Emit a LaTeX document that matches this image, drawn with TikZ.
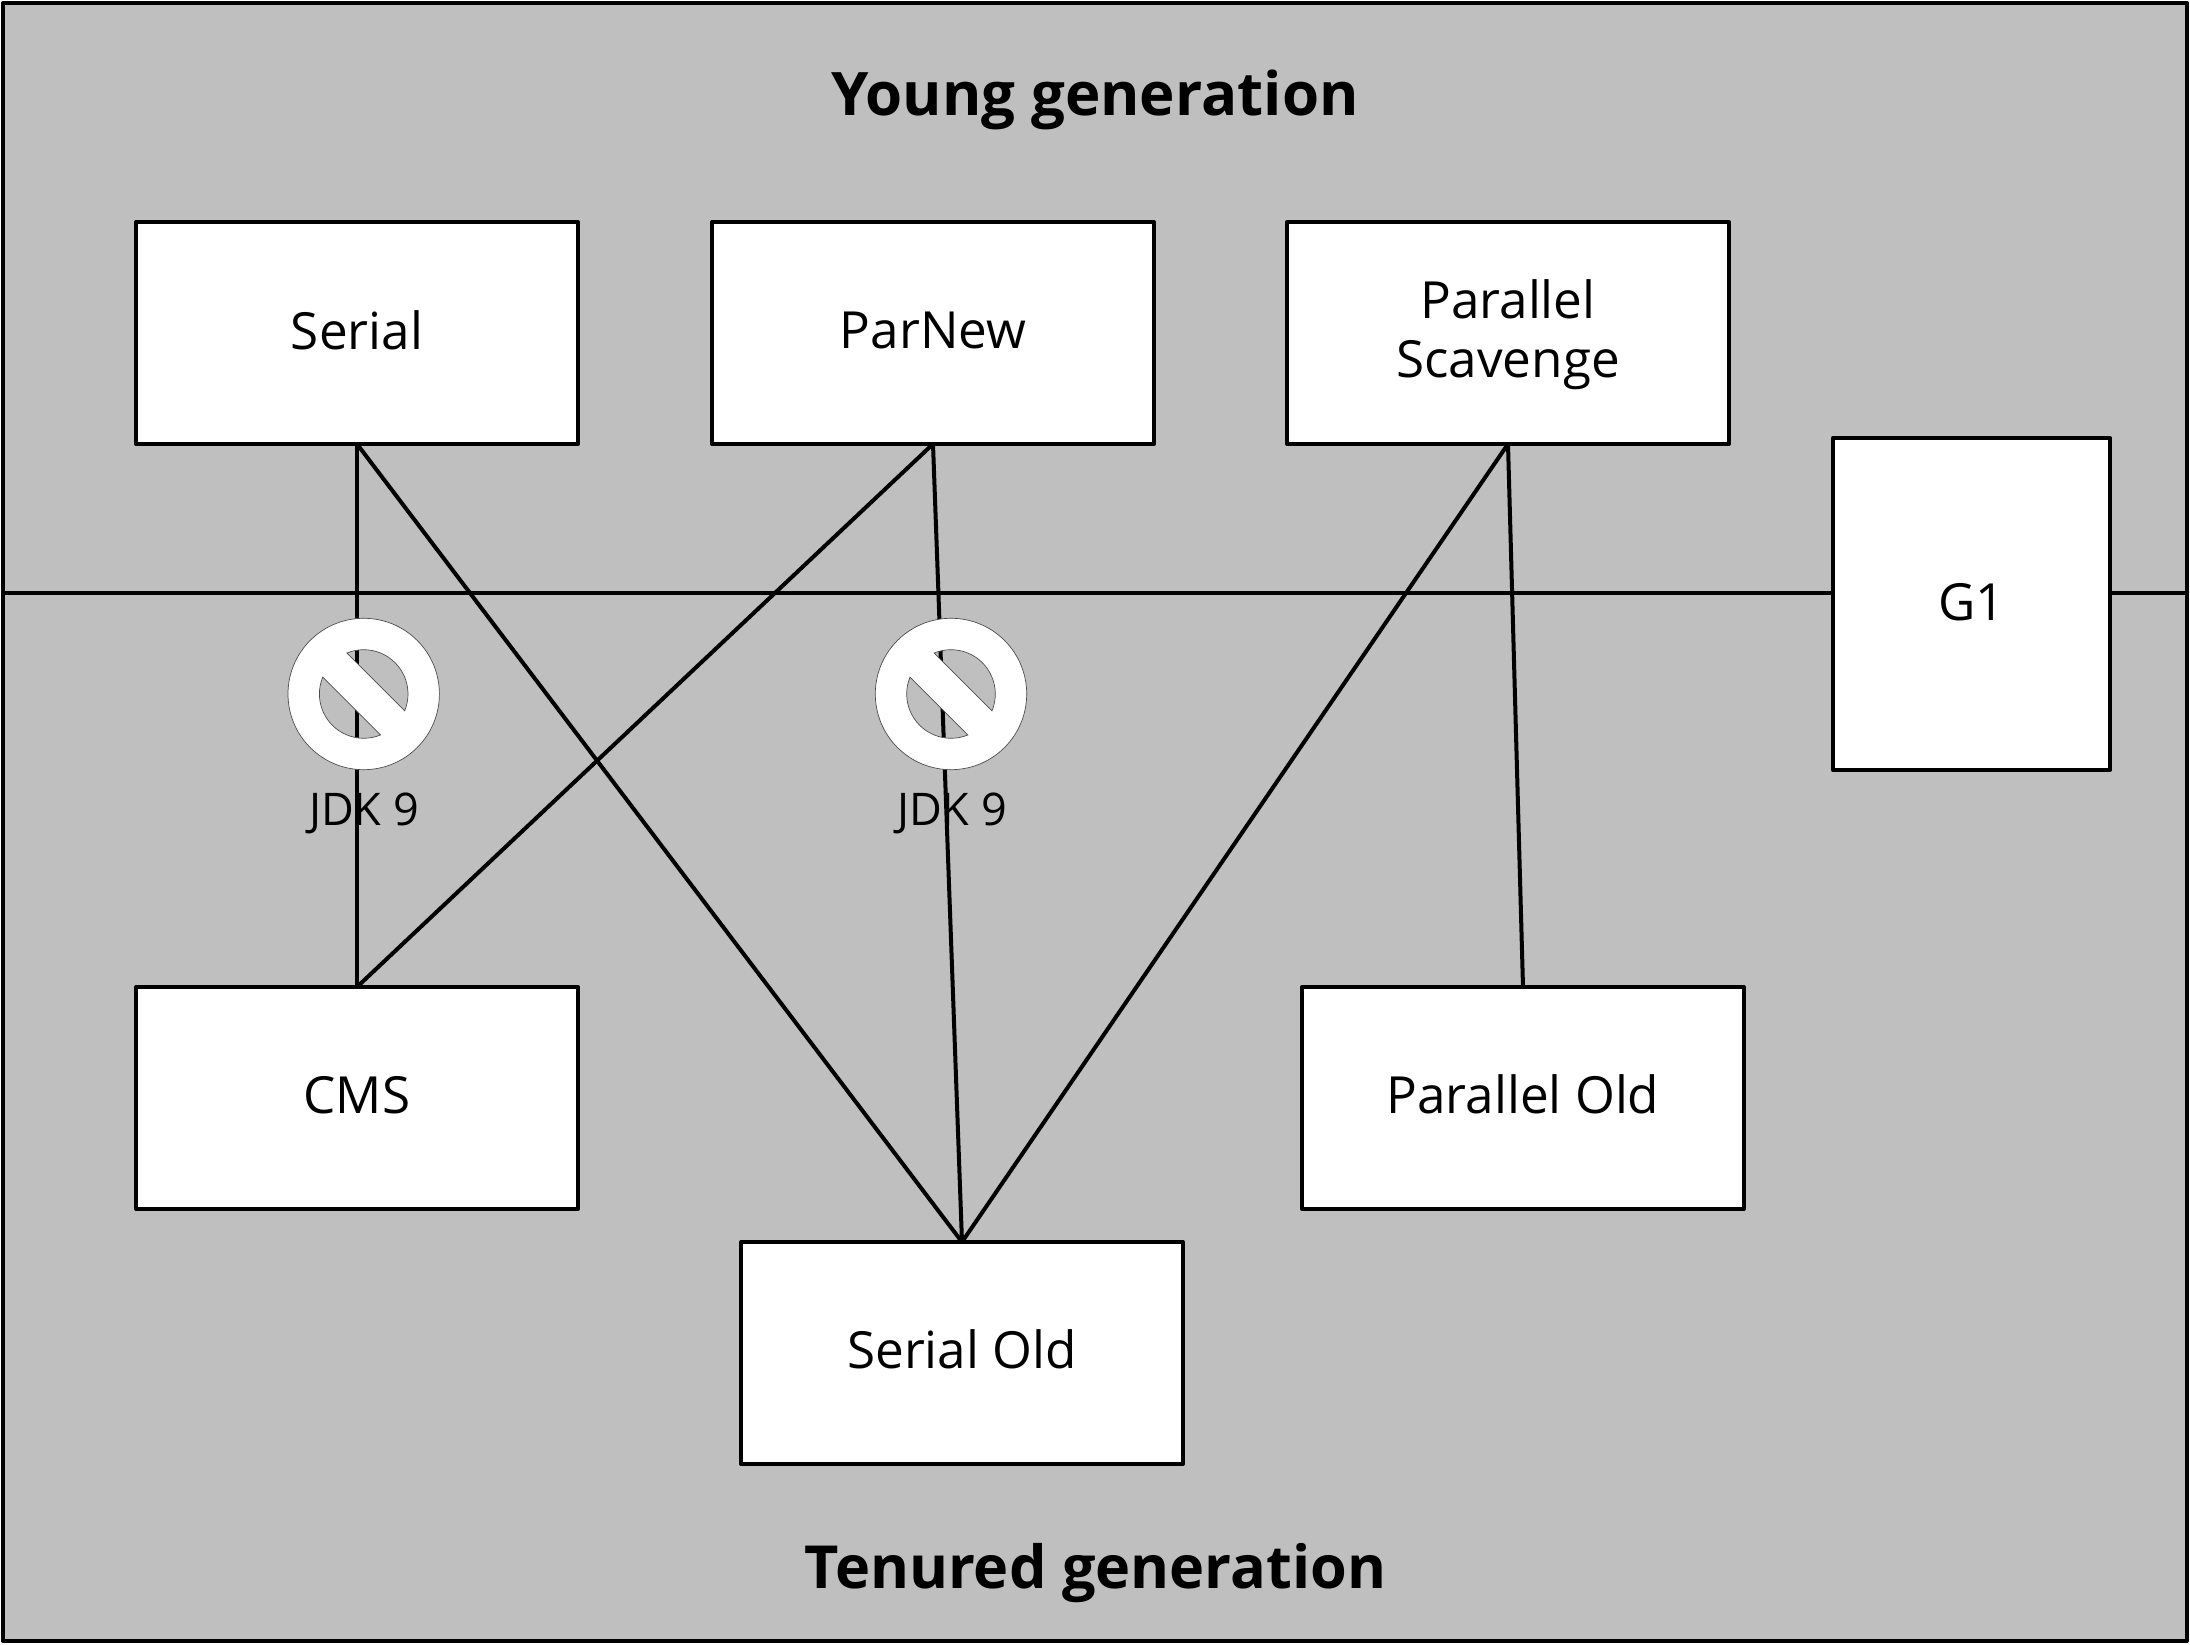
\documentclass[tikz,border=0pt]{standalone}
\usepackage{fontspec}
\setmainfont{Open Sans}
\definecolor{panelgrey}{HTML}{BFBFBF}
\tikzset{
  gcbox/.style={draw=black,fill=white,line width=2pt,line join=round,outer sep=0pt,inner sep=0pt,align=center,font=\fontsize{25.6}{30.5}\selectfont,minimum width=221pt,minimum height=111pt},
  link/.style={line width=2pt},
  heading/.style={font=\fontsize{30}{36}\selectfont\bfseries,inner sep=0pt},
  jdk/.style={font=\fontsize{22.5}{26}\selectfont,inner sep=0pt},
  nosign/.pic={
    \begin{scope}[rotate=-45]
      \path[fill=white,draw=black!70,line width=0.35pt,even odd rule]
        (0,0) circle[radius=75.7]
        (22.6:44.3) arc[start angle=22.6,end angle=157.4,radius=44.3] -- cycle
        (202.6:44.3) arc[start angle=202.6,end angle=337.4,radius=44.3] -- cycle;
    \end{scope}
  }
}
\begin{document}
\begin{tikzpicture}[x=0.5pt,y=0.5pt]
\useasboundingbox (0,0) rectangle (2190,1644);
\draw[fill=panelgrey,line width=2pt,line join=round] (3,3) rectangle (2187,1641);
\coordinate (midL) at (3,1051);
\coordinate (midR) at (2187,1051);
\draw[link] (midL) -- (midR);
\node[gcbox] (serial) at (357,1311) {\raisebox{3pt}{Serial}};
\node[gcbox] (parnew) at (933,1311) {\raisebox{2.5pt}{ParNew}};
\node[gcbox] (scav) at (1508,1311) {\raisebox{-7.8pt}[0pt][0pt]{\begin{tabular}{@{}c@{}}Parallel\\[-1pt]Scavenge\end{tabular}}};
\node[gcbox,minimum width=138.5pt,minimum height=166pt] (gone) at (1971.4,1040) {\raisebox{2.5pt}{G1}};
\node[gcbox] (cms) at (357,546) {\raisebox{3pt}{CMS}};
\node[gcbox] (parold) at (1523,546) {\raisebox{4pt}{Parallel Old}};
\node[gcbox] (serold) at (962,291) {\raisebox{3.5pt}{Serial Old}};
\draw[link] (serial.south) -- (cms.north);
\draw[link] (serial.south) -- (serold.north);
\draw[link] (parnew.south) -- (cms.north);
\draw[link] (parnew.south) -- (serold.north);
\draw[link] (scav.south) -- (serold.north);
\draw[link] (scav.south) -- (parold.north);
\pic at (363.7,950) {nosign};
\pic at (951,950) {nosign};
\node[jdk] (jdka) at (364,831) {JDK 9};
\node[jdk] (jdkb) at (952,831) {JDK 9};
\node[heading] (young) at (1095,1544.5) {Young generation};
\node[heading,font=\fontsize{29.7}{36}\selectfont\bfseries] (tenured) at (1095.5,70.5) {Tenured generation};
\end{tikzpicture}
\end{document}
